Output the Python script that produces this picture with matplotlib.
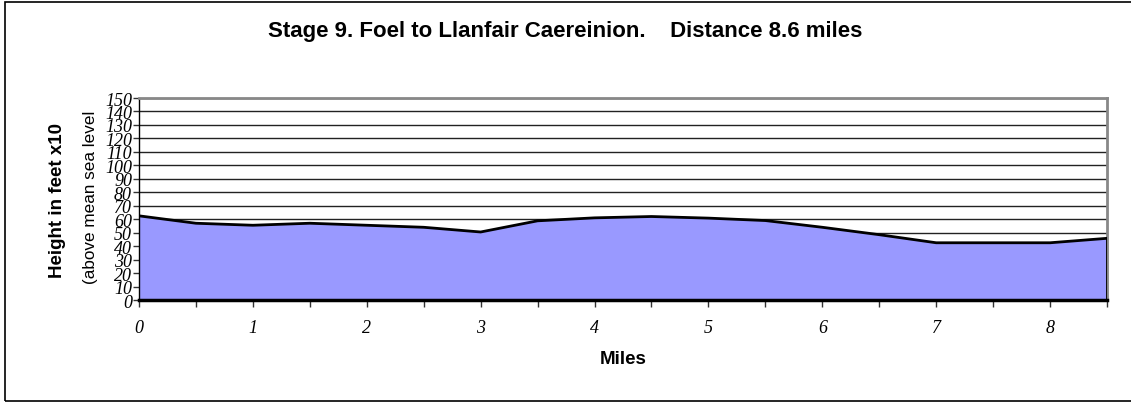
import matplotlib.pyplot as plt
from matplotlib.patches import Rectangle

# distance along the route (miles) and height (feet x10)
miles = [0, 0.5, 1, 1.5, 2, 2.5, 3, 3.5, 4, 4.5, 5, 5.5, 6, 6.5, 7, 7.5, 8, 8.5]
height = [62.5, 57, 55.5, 57, 55.5, 54, 50.5, 58.8, 61, 62, 60.8, 59, 54, 48.5, 42.5, 42.5, 42.5, 45.8]

x_labels = [str(i) for i in range(9)]
y_ticks = list(range(0, 151, 10))

title = "Stage 9. Foel to Llanfair Caereinion.    Distance 8.6 miles"


def main():
    fig = plt.figure(figsize=(11.31, 4.06), dpi=100)
    ax = fig.add_axes([139 / 1131, 1 - 301 / 406, (1107 - 139) / 1131, (301 - 99) / 406])

    ax.fill_between(miles, height, 0, color="#9999FF", zorder=2)
    ax.plot(miles, height, color="black", lw=2, zorder=3)
    ax.plot([miles[-1], miles[-1]], [0, height[-1]], color="black", lw=2, zorder=3)

    ax.set_xlim(0, 8.5)
    ax.set_ylim(0, 150)
    ax.set_yticks(y_ticks)
    ax.set_yticklabels([str(v) for v in y_ticks], fontfamily="Liberation Serif",
                       fontstyle="italic", fontsize=13)
    ax.set_xticks(range(9))
    ax.set_xticklabels(x_labels, fontfamily="Liberation Serif", fontstyle="italic", fontsize=13)
    ax.set_xticks([i + 0.5 for i in range(9)], minor=True)
    ax.tick_params(axis="x", which="both", direction="out", length=5, width=1,
                   color="#333333", pad=9)
    ax.tick_params(axis="y", direction="out", length=4, width=1, pad=1, color="#333333")

    ax.grid(axis="y", color="#222222", lw=1, zorder=1)

    ax.spines["left"].set_color("black")
    ax.spines["left"].set_linewidth(1)
    ax.spines["bottom"].set_color("black")
    ax.spines["bottom"].set_linewidth(2.5)
    ax.spines["bottom"].set_zorder(4)
    ax.spines["top"].set_color("#888888")
    ax.spines["top"].set_linewidth(2)
    ax.spines["right"].set_color("#888888")
    ax.spines["right"].set_linewidth(2)

    fig.text(623 / 1131, 1 - 360 / 406, "Miles", ha="center", va="center",
             fontfamily="Liberation Sans", fontweight="bold", fontsize=13.5)

    fig.text(0.5, 1 - 32 / 406, title, ha="center", va="center",
             fontfamily="Liberation Sans", fontweight="bold", fontsize=16)
    fig.text(57 / 1131, 1 - 200 / 406, "Height in feet x10", rotation=90, ha="center", va="center",
             fontfamily="Liberation Sans", fontweight="bold", fontsize=13.5)
    fig.text(90 / 1131, 1 - 197 / 406, "(above mean sea level", rotation=90, ha="center", va="center",
             fontfamily="Liberation Sans", fontsize=12.3)

    fig.patches.append(Rectangle((5 / 1131, 1 - 402 / 406), 1.01, 399 / 406,
                                 transform=fig.transFigure, fill=False,
                                 edgecolor="black", lw=1.2))

    fig.savefig("out.png", dpi=100)


if __name__ == '__main__':
    main()
